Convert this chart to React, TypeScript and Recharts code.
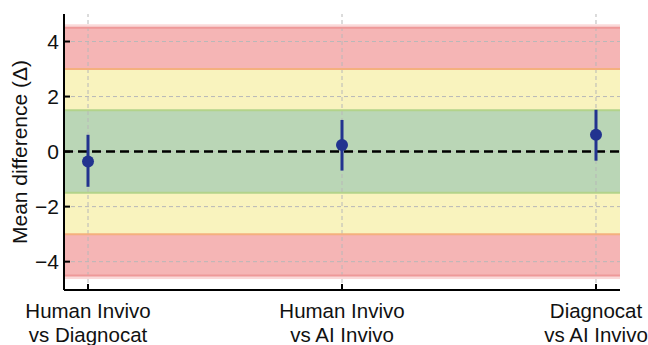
import React from 'react'
import {
  ScatterChart,
  Scatter,
  XAxis,
  YAxis,
  ReferenceArea,
  ReferenceLine,
  ErrorBar,
} from 'recharts'

const comparaciones = [
  ['Human Invivo', 'vs Diagnocat'],
  ['Human Invivo', 'vs AI Invivo'],
  ['Diagnocat', 'vs AI Invivo'],
]
const posicionesX = [0, 1, 2]
const medias = [-0.36, 0.24, 0.61]
const limiteInferior = [-1.28, -0.69, -0.33]
const limiteSuperior = [0.61, 1.15, 1.52]
const ticksY = [-4, -2, 0, 2, 4]

const AZUL = '#22338f'
const REJILLA = '#b8b8b8'
const FUENTE = '"Liberation Sans", Arial, Helvetica, sans-serif'

const data = medias.map((m, i) => ({
  x: posicionesX[i],
  y: m,
  err: [m - limiteInferior[i], limiteSuperior[i] - m],
}))

const menos = (v: number) => (v < 0 ? `\u2212${Math.abs(v)}` : `${v}`)

function TickY(props: any) {
  const { x, y, payload } = props
  const eje = x + 5
  return (
    <g>
      <line x1={eje} x2={eje + 6} y1={y} y2={y} stroke="#000" strokeWidth={2} />
      <text x={x} y={y + 7.5} textAnchor="end" fontSize={21} fontFamily={FUENTE} fill="#111">
        {menos(payload.value)}
      </text>
    </g>
  )
}

function TickX(props: any) {
  const { x, y, payload } = props
  const lineas = comparaciones[payload.value] ?? []
  return (
    <g>
      <line x1={x} x2={x} y1={y} y2={y - 6} stroke="#000" strokeWidth={2} />
      <text x={x} y={y + 28} textAnchor="middle" fontSize={20.5} fontFamily={FUENTE} fill="#111">
        {lineas[0]}
      </text>
      <text x={x} y={y + 52} textAnchor="middle" fontSize={20.5} fontFamily={FUENTE} fill="#111">
        {lineas[1]}
      </text>
    </g>
  )
}

export default function App() {
  return (
    <div style={{ position: 'absolute', left: 0, top: 0, background: '#fff' }}>
      <ScatterChart width={648} height={345} margin={{ top: 14, right: 28, bottom: 0, left: 0 }}>
        <ReferenceArea y1={4.5} y2={4.63} fill="#f08080" fillOpacity={0.3} stroke="none" />
        <ReferenceArea y1={3} y2={4.5} fill="#eb6b6b" fillOpacity={0.5} stroke="none" />
        <ReferenceArea y1={1.5} y2={3} fill="#f3e77d" fillOpacity={0.5} stroke="none" />
        <ReferenceArea y1={-1.5} y2={1.5} fill="#75ad6d" fillOpacity={0.5} stroke="none" />
        <ReferenceArea y1={-3} y2={-1.5} fill="#f3e77d" fillOpacity={0.5} stroke="none" />
        <ReferenceArea y1={-4.5} y2={-3} fill="#eb6b6b" fillOpacity={0.5} stroke="none" />
        <ReferenceArea y1={-4.63} y2={-4.5} fill="#f08080" fillOpacity={0.3} stroke="none" />
        {ticksY.map((t) => (
          <ReferenceLine key={`gy${t}`} y={t} stroke={REJILLA} strokeWidth={1} strokeDasharray="4 3" />
        ))}
        {posicionesX.map((t) => (
          <ReferenceLine key={`gx${t}`} x={t} stroke={REJILLA} strokeWidth={1} strokeDasharray="4 3" />
        ))}
        <ReferenceLine y={4.5} stroke="#ee9999" strokeWidth={2} />
        <ReferenceLine y={-4.5} stroke="#ee9999" strokeWidth={2} />
        <ReferenceLine y={3} stroke="#f4b07e" strokeWidth={2} />
        <ReferenceLine y={-3} stroke="#f4b07e" strokeWidth={2} />
        <ReferenceLine y={1.5} stroke="#b2d38a" strokeWidth={2} />
        <ReferenceLine y={-1.5} stroke="#b2d38a" strokeWidth={2} />
        <ReferenceLine y={0} stroke="#000" strokeWidth={2.5} strokeDasharray="9 5" />
        <XAxis
          type="number"
          dataKey="x"
          domain={[-0.0945, 2.0945]}
          ticks={posicionesX}
          interval={0}
          allowDataOverflow
          height={55}
          tickSize={0}
          tickMargin={0}
          axisLine={{ stroke: '#000', strokeWidth: 2 }}
          tick={<TickX />}
        />
        <YAxis
          type="number"
          dataKey="y"
          domain={[-5.03, 5.0]}
          ticks={ticksY}
          interval={0}
          allowDataOverflow
          width={64}
          tickSize={0}
          tickMargin={5}
          axisLine={{ stroke: '#000', strokeWidth: 2 }}
          tick={<TickY />}
          label={{
            position: 'insideLeft',
            content: () => (
              <text
                x={27}
                y={152}
                transform="rotate(-90 27 152)"
                textAnchor="middle"
                fontSize={21}
                fontFamily={FUENTE}
                fill="#111"
              >
                Mean difference (Δ)
              </text>
            ),
          }}
        />
        <Scatter
          data={data}
          isAnimationActive={false}
          shape={(p: any) => <circle cx={p.cx} cy={p.cy} r={6} fill={AZUL} />}
        >
          <ErrorBar dataKey="err" direction="y" width={0} stroke={AZUL} strokeWidth={3} isAnimationActive={false} />
        </Scatter>
      </ScatterChart>
    </div>
  )
}
